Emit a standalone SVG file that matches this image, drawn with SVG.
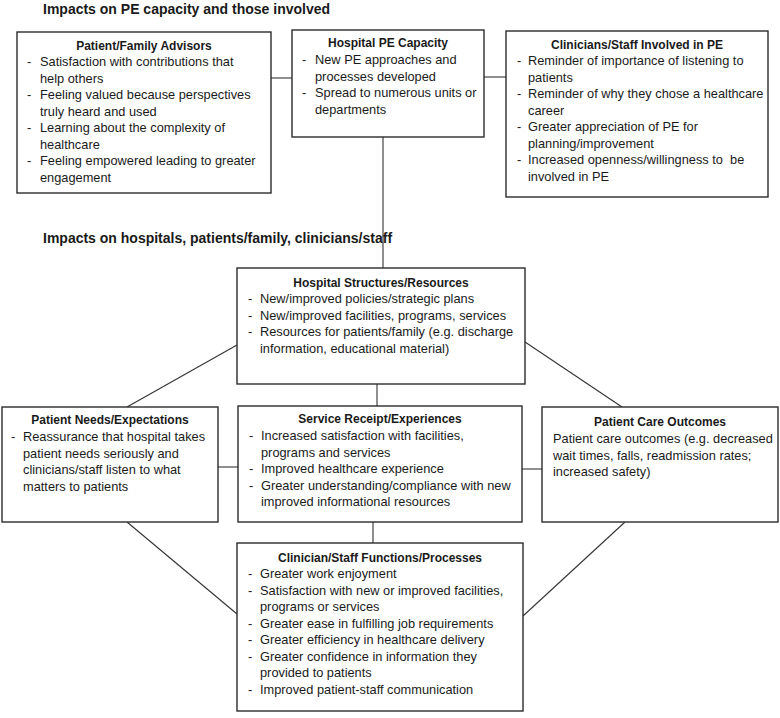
<svg xmlns="http://www.w3.org/2000/svg" width="780" height="718" viewBox="0 0 780 718">
<style>
.box{fill:#fff;stroke:#2b2b2b;stroke-width:1.4}
.ln{stroke:#333;stroke-width:1.1;fill:none}
text{font-family:"Liberation Sans",Arial,sans-serif;fill:#1a1a1a}
.sec{font-size:14px;font-weight:bold}
.ttl{font-size:12px;font-weight:bold;text-anchor:middle}
.t{font-size:12.8px}
</style>
<rect width="780" height="718" fill="#fff"/>
<text class="sec" x="43" y="14">Impacts on PE capacity and those involved</text>
<text class="sec" x="43" y="243">Impacts on hospitals, patients/family, clinicians/staff</text>
<g id="connectors">
<line class="ln" x1="271" y1="78" x2="292" y2="78"/>
<line class="ln" x1="484" y1="77" x2="506" y2="77"/>
<line class="ln" x1="383" y1="137" x2="383" y2="268"/>
<line class="ln" x1="127" y1="407" x2="237" y2="345"/>
<line class="ln" x1="525" y1="342" x2="622" y2="407"/>
<line class="ln" x1="377" y1="384" x2="377" y2="406"/>
<line class="ln" x1="218" y1="467" x2="238" y2="467"/>
<line class="ln" x1="522" y1="469" x2="542" y2="469"/>
<line class="ln" x1="373" y1="522" x2="373" y2="543"/>
<line class="ln" x1="127" y1="522" x2="237" y2="614"/>
<line class="ln" x1="625" y1="522" x2="523" y2="616"/>
</g>
<g id="patient-family-advisors">
<rect class="box" x="17" y="32" width="254" height="161"/>
<text class="ttl" x="144" y="50">Patient/Family Advisors</text>
<g class="t">
<text x="27" y="66">-</text><text x="40" y="66">Satisfaction with contributions that</text>
<text x="40" y="82.5">help others</text>
<text x="27" y="99">-</text><text x="40" y="99">Feeling valued because perspectives</text>
<text x="40" y="115.5">truly heard and used</text>
<text x="27" y="132">-</text><text x="40" y="132">Learning about the complexity of</text>
<text x="40" y="148.5">healthcare</text>
<text x="27" y="165">-</text><text x="40" y="165">Feeling empowered leading to greater</text>
<text x="40" y="181.5">engagement</text>
</g>
</g>
<g id="hospital-pe-capacity">
<rect class="box" x="292" y="30" width="192" height="107"/>
<text class="ttl" x="388" y="47">Hospital PE Capacity</text>
<g class="t">
<text x="302" y="64">-</text><text x="315" y="64">New PE approaches and</text>
<text x="315" y="80.5">processes developed</text>
<text x="302" y="97">-</text><text x="315" y="97">Spread to numerous units or</text>
<text x="315" y="113.5">departments</text>
</g>
</g>
<g id="clinicians-staff-involved">
<rect class="box" x="506" y="31" width="262" height="166"/>
<text class="ttl" x="637" y="49">Clinicians/Staff Involved in PE</text>
<g class="t">
<text x="517" y="65">-</text><text x="528" y="65">Reminder of importance of listening to</text>
<text x="528" y="81.5">patients</text>
<text x="517" y="98">-</text><text x="528" y="98">Reminder of why they chose a healthcare</text>
<text x="528" y="114.5">career</text>
<text x="517" y="131">-</text><text x="528" y="131">Greater appreciation of PE for</text>
<text x="528" y="147.5">planning/improvement</text>
<text x="517" y="164">-</text><text x="528" y="164">Increased openness/willingness to&#160; be</text>
<text x="528" y="180.5">involved in PE</text>
</g>
</g>
<g id="hospital-structures-resources">
<rect class="box" x="237" y="268" width="288" height="116"/>
<text class="ttl" x="381" y="287">Hospital Structures/Resources</text>
<g class="t">
<text x="248" y="303">-</text><text x="260" y="303">New/improved policies/strategic plans</text>
<text x="248" y="319.5">-</text><text x="260" y="319.5">New/improved facilities, programs, services</text>
<text x="248" y="336">-</text><text x="260" y="336">Resources for patients/family (e.g. discharge</text>
<text x="260" y="352.5">information, educational material)</text>
</g>
</g>
<g id="patient-needs-expectations">
<rect class="box" x="2" y="407" width="216" height="115"/>
<text class="ttl" x="110" y="424">Patient Needs/Expectations</text>
<g class="t">
<text x="11" y="441">-</text><text x="23" y="441">Reassurance that hospital takes</text>
<text x="23" y="457.5">patient needs seriously and</text>
<text x="23" y="474">clinicians/staff listen to what</text>
<text x="23" y="490.5">matters to patients</text>
</g>
</g>
<g id="service-receipt-experiences">
<rect class="box" x="238" y="406" width="284" height="116"/>
<text class="ttl" x="380" y="423">Service Receipt/Experiences</text>
<g class="t">
<text x="249" y="440">-</text><text x="261" y="440">Increased satisfaction with facilities,</text>
<text x="261" y="456.5">programs and services</text>
<text x="249" y="473">-</text><text x="261" y="473">Improved healthcare experience</text>
<text x="249" y="489.5">-</text><text x="261" y="489.5">Greater understanding/compliance with new</text>
<text x="261" y="506">improved informational resources</text>
</g>
</g>
<g id="patient-care-outcomes">
<rect class="box" x="542" y="407" width="236" height="115"/>
<text class="ttl" x="660" y="426">Patient Care Outcomes</text>
<g class="t">
<text x="553" y="443">Patient care outcomes (e.g. decreased</text>
<text x="553" y="459.5">wait times, falls, readmission rates;</text>
<text x="553" y="476">increased safety)</text>
</g>
</g>
<g id="clinician-staff-functions">
<rect class="box" x="237" y="543" width="286" height="168"/>
<text class="ttl" x="380" y="562">Clinician/Staff Functions/Processes</text>
<g class="t">
<text x="248" y="578">-</text><text x="260" y="578">Greater work enjoyment</text>
<text x="248" y="594.5">-</text><text x="260" y="594.5">Satisfaction with new or improved facilities,</text>
<text x="260" y="611">programs or services</text>
<text x="248" y="627.5">-</text><text x="260" y="627.5">Greater ease in fulfilling job requirements</text>
<text x="248" y="644">-</text><text x="260" y="644">Greater efficiency in healthcare delivery</text>
<text x="248" y="660.5">-</text><text x="260" y="660.5">Greater confidence in information they</text>
<text x="260" y="677">provided to patients</text>
<text x="248" y="693.5">-</text><text x="260" y="693.5">Improved patient-staff communication</text>
</g>
</g>
</svg>
